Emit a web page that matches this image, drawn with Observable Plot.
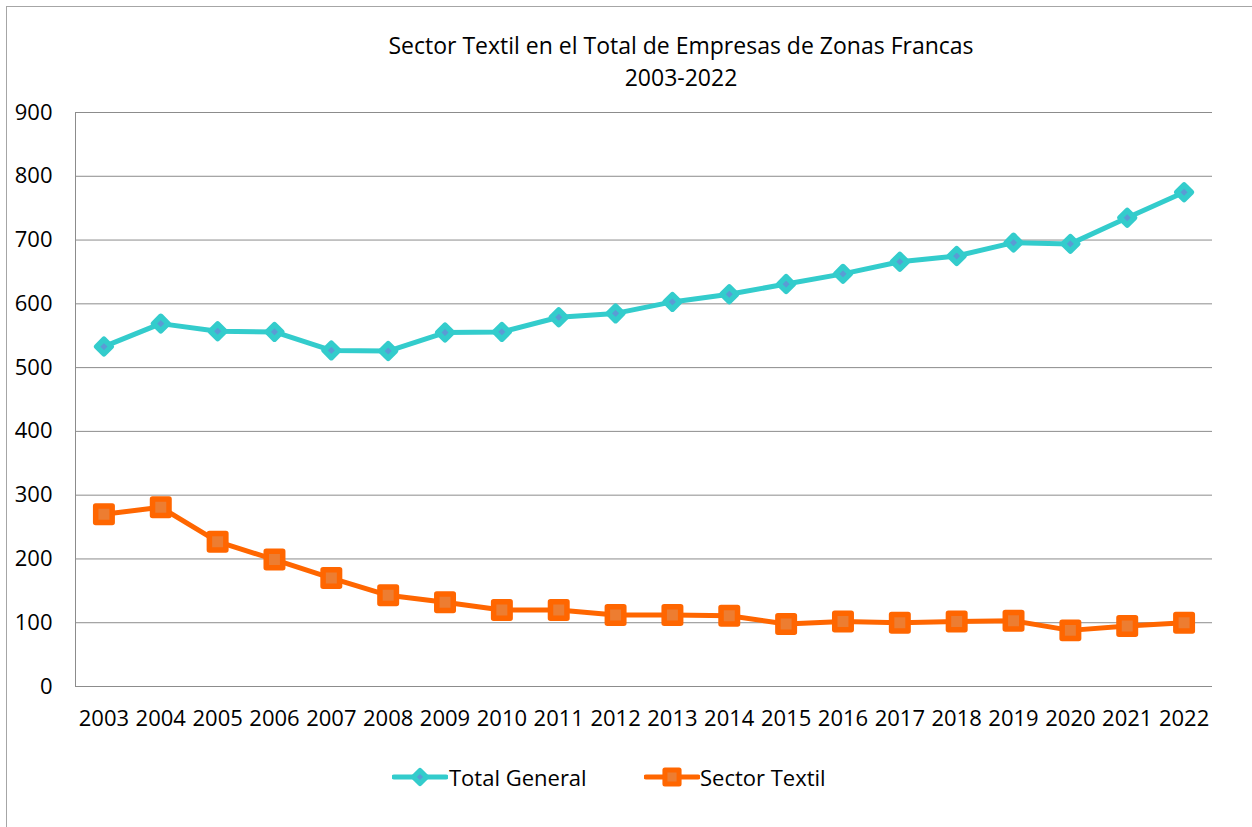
<!DOCTYPE html>
<html>
<head>
<meta charset="utf-8">
<script src="https://cdn.jsdelivr.net/npm/d3@7"></script>
<script src="https://cdn.jsdelivr.net/npm/@observablehq/plot@0.6"></script>
<style>
  html, body { margin: 0; padding: 0; background: #fff; overflow: hidden; }
  body { width: 1252px; height: 827px; position: relative; font-family: "Open Sans", sans-serif; color: #000; }
  #frame { position: absolute; left: 6px; top: 6px; width: 1400px; height: 1000px; border-left: 1px solid #a6a6a6; border-top: 1px solid #a6a6a6; }
  #title { position: absolute; left: 331px; width: 700px; top: 29px; text-align: center; font-size: 23px; line-height: 32px; }
  #chart { position: absolute; left: 0; top: 80px; }
  .leg { position: absolute; top: 762px; height: 30px; display: flex; align-items: center; font-size: 22px; }
  .leg svg { display: block; }
</style>
</head>
<body>
<div id="frame"></div>
<div id="title">Sector Textil en el Total de Empresas de Zonas Francas<br>2003-2022</div>
<div id="chart"></div>
<div class="leg" style="left:392px"><svg width="56" height="30" id="leg1"></svg><span style="margin-left:1px">Total General</span></div>
<div class="leg" style="left:644px"><svg width="56" height="30" id="leg2"></svg><span style="margin-left:0px">Sector Textil</span></div>
<script>
const years = ["2003","2004","2005","2006","2007","2008","2009","2010","2011","2012","2013","2014","2015","2016","2017","2018","2019","2020","2021","2022"];
const totalGeneral = [533,569,557,556,527,526,555,556,579,585,603,615,631,647,666,675,696,694,735,775];
const sectorTextil = [270,281,227,199,170,143,132,120,120,112,112,111,98,102,100,102,103,88,95,100];
const yTicks = [0,100,200,300,400,500,600,700,800,900];
const seriesNames = ["Total General", "Sector Textil"];

const tealLine = "#33CCCC", tealFill = "#5B9BD5";
const orangeLine = "#FF6600", orangeFill = "#ED7D31";

const data = years.map((y, i) => ({year: y, total: totalGeneral[i], textil: sectorTextil[i]}));

const chart = Plot.plot({
  width: 1252,
  height: 666,
  marginTop: 32,
  marginLeft: 75,
  marginRight: 40,
  marginBottom: 60,
  style: {fontFamily: "'Open Sans', sans-serif", fontSize: "22px", color: "#000", background: "transparent"},
  x: {type: "point", domain: years, padding: 0.5, round: false, label: null, tickSize: 0, tickPadding: 24},
  y: {domain: [0, 900], ticks: yTicks, label: null, tickSize: 0, tickPadding: 23},
  marks: [
    Plot.gridY(yTicks, {stroke: "#8c8c8c", strokeOpacity: 1, strokeWidth: 1}),
    Plot.frame({anchor: "left", stroke: "#8c8c8c"}),
    Plot.lineY(data, {x: "year", y: "total", stroke: tealLine, strokeWidth: 5}),
    Plot.dot(data, {x: "year", y: "total", symbol: "diamond2", r: 6.6, fill: tealFill, stroke: tealLine, strokeWidth: 5.4, strokeLinejoin: "round"}),
    Plot.lineY(data, {x: "year", y: "textil", stroke: orangeLine, strokeWidth: 5}),
    Plot.dot(data, {x: "year", y: "textil", symbol: "square", r: 9.3, fill: orangeFill, stroke: orangeLine, strokeWidth: 5.5, strokeLinejoin: "round"})
  ]
});
document.getElementById("chart").appendChild(chart);

// Legend swatches
function swatch(id, line, fill, symbolType, size) {
  const svg = d3.select("#" + id);
  svg.append("line").attr("x1", 2).attr("x2", 54).attr("y1", 15).attr("y2", 15)
    .attr("stroke", line).attr("stroke-width", 5).attr("stroke-linecap", "round");
  svg.append("path").attr("transform", "translate(28,15)")
    .attr("d", d3.symbol(symbolType, size)())
    .attr("fill", fill).attr("stroke", line).attr("stroke-width", 5).attr("stroke-linejoin", "round");
}
swatch("leg1", tealLine, tealFill, d3.symbolDiamond2, 110);
swatch("leg2", orangeLine, orangeFill, d3.symbolSquare, 200);
</script>
</body>
</html>
